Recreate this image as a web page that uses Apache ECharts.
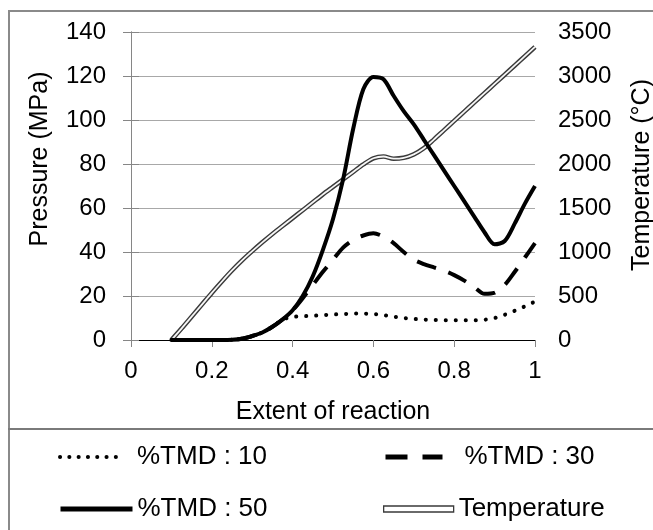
<!DOCTYPE html>
<html><head><meta charset="utf-8">
<script src="https://cdn.jsdelivr.net/npm/echarts@6/dist/echarts.min.js"></script>
<style>html,body{margin:0;padding:0;background:#fff}#c{width:653px;height:530px}</style>
</head><body><div id="c"></div>
<script>
const extent = [0.1,0.125,0.15,0.175,0.2,0.225,0.25,0.275,0.3,0.325,0.35,0.375,0.4,0.425,0.45,0.475,0.5,0.525,0.55,0.575,0.6,0.625,0.65,0.675,0.7,0.725,0.75,0.775,0.8,0.825,0.85,0.875,0.9,0.925,0.95,0.975,1.0];
const tmd10 = [0,0,0,0,0,0,0.1,0.6,1.8,3.4,6,9.2,10.5,10.8,11,11.3,11.6,11.8,12,12,11.8,11.3,10.6,10,9.6,9.3,9.1,9,9,9,9,9.2,10,11.5,13.3,15.3,17.5];
const tmd30 = [0,0,0,0,0,0,0.1,0.6,1.8,3.4,6,9.3,13.5,19,25,31,36.5,42,45.5,47.5,48.5,47,44,40,36.5,34.5,33,31.5,29.5,27,24,21,21.5,25,31,37.5,44];
const tmd50 = [0,0,0,0,0,0,0.1,0.6,1.8,3.4,6,9.3,13.5,20,29,41,55,73,96,114,119.5,118.5,111,104,98,91,84,77,70,63,56,49,43.5,45,53,62,70];
const temperature = [0,130,265,400,535,665,790,905,1010,1110,1205,1295,1385,1475,1565,1655,1740,1825,1910,1995,2065,2085,2060,2070,2110,2180,2280,2385,2490,2595,2700,2805,2910,3015,3120,3225,3330];
const xTicks = [0,0.2,0.4,0.6,0.8,1];
const pressureTicks = [0,20,40,60,80,100,120,140];
const temperatureTicks = [0,500,1000,1500,2000,2500,3000,3500];
const seriesNames = ['%TMD : 10','%TMD : 30','%TMD : 50','Temperature'];
const xTitle = 'Extent of reaction';
const pTitle = 'Pressure (MPa)';
const tTitle = 'Temperature (°C)';

const FONT = "'Liberation Sans', Arial, sans-serif";
const pairs = arr => extent.map((x, i) => [x, arr[i]]);
const step = a => a[1] - a[0];
const axisGray = '#868686';
const plain = v => String(v);

const chart = echarts.init(document.getElementById('c'));
chart.setOption({
  animation: false,
  backgroundColor: '#fff',
  textStyle: { fontFamily: FONT },
  grid: { left: 131, right: 118, top: 32, bottom: 190 },
  xAxis: [{
    type: 'value', min: xTicks[0], max: xTicks[xTicks.length-1], interval: step(xTicks),
    axisLine: { show: true, lineStyle: { color: axisGray, width: 1 } },
    axisTick: { show: true, length: 7, lineStyle: { color: axisGray } },
    axisLabel: { fontSize: 24, color: '#000', margin: 19, fontFamily: FONT, formatter: plain },
    splitLine: { show: false },
    name: xTitle, nameLocation: 'middle', nameGap: 60,
    nameTextStyle: { fontSize: 25, color: '#000', fontFamily: FONT }
  }, {
    type: 'value', position: 'top', min: xTicks[0], max: xTicks[xTicks.length-1],
    axisLine: { show: true, lineStyle: { color: '#000', width: 1.2 } },
    axisTick: { show: false }, axisLabel: { show: false }, splitLine: { show: false }
  }],
  yAxis: [{
    type: 'value', min: pressureTicks[0], max: pressureTicks[pressureTicks.length-1], interval: step(pressureTicks),
    axisLine: { show: true, lineStyle: { color: axisGray } },
    axisTick: { show: true, length: 8, lineStyle: { color: axisGray } },
    axisLabel: { fontSize: 24, color: '#000', margin: 25, fontFamily: FONT, formatter: plain },
    splitLine: { show: true, lineStyle: { color: '#a8a8a8', width: 1 } }
  }, {
    type: 'value', position: 'right', min: temperatureTicks[0], max: temperatureTicks[temperatureTicks.length-1], interval: step(temperatureTicks),
    axisLine: { show: true, lineStyle: { color: axisGray } },
    axisTick: { show: true, length: 8, lineStyle: { color: axisGray } },
    axisLabel: { fontSize: 24, color: '#000', margin: 23, fontFamily: FONT, formatter: plain },
    splitLine: { show: false }
  }],
  legend: [
    { left: 58, top: 444, padding: 0, itemWidth: 62, itemHeight: 10,
      textStyle: { fontSize: 26, color: '#000', fontFamily: FONT, padding: [0,0,0,10] },
      data: [{ name: seriesNames[0], itemStyle: { opacity: 0 }, lineStyle: { width: 4, type: [0.1, 9.2], cap: 'round' } }] },
    { left: 383, top: 444, padding: 0, itemWidth: 57, itemHeight: 10,
      textStyle: { fontSize: 26, color: '#000', fontFamily: FONT, padding: [0,0,0,17] },
      data: [{ name: seriesNames[1], itemStyle: { opacity: 0 }, lineStyle: { type: [22, 15], width: 5 } }] },
    { left: 58, top: 496, padding: 0, itemWidth: 72, itemHeight: 10,
      textStyle: { fontSize: 26, color: '#000', fontFamily: FONT, padding: [0,0,0,0] },
      data: [{ name: seriesNames[2], itemStyle: { opacity: 0 }, lineStyle: { width: 5 } }] },
    { left: 383, top: 496, padding: 0, itemWidth: 70, itemHeight: 6,
      textStyle: { fontSize: 26, color: '#000', fontFamily: FONT },
      data: [{ name: seriesNames[3], icon: 'rect', itemStyle: { color: '#fff', borderColor: '#3a3a3a', borderWidth: 1.3, opacity: 1 } }] }
  ],
  graphic: [
    { type: 'line', shape: { x1: 9, y1: 11, x2: 9, y2: 530 }, style: { stroke: '#8a8a8a', lineWidth: 2 }, silent: true },
    { type: 'line', shape: { x1: 8, y1: 11, x2: 653, y2: 11 }, style: { stroke: '#8a8a8a', lineWidth: 2 }, silent: true },
    { type: 'line', shape: { x1: 8, y1: 429, x2: 653, y2: 429 }, style: { stroke: '#7a7a7a', lineWidth: 2 }, silent: true },
    { type: 'text', x: 40, y: 159, rotation: Math.PI / 2,
      style: { text: pTitle, font: '25px ' + FONT, fill: '#000', align: 'center', verticalAlign: 'middle' }, silent: true },
    { type: 'text', x: 642, y: 175, rotation: Math.PI / 2,
      style: { text: tTitle, font: '25px ' + FONT, fill: '#000', align: 'center', verticalAlign: 'middle' }, silent: true }
  ],
  series: [
    { name: seriesNames[3], type: 'line', yAxisIndex: 1, data: pairs(temperature), smooth: 0.3, showSymbol: false, symbol: 'none',
      lineStyle: { color: '#3a3a3a', width: 4.6 }, itemStyle: { color: '#3a3a3a' }, z: 2 },
    { name: seriesNames[3], type: 'line', yAxisIndex: 1, data: pairs(temperature), smooth: 0.3, showSymbol: false, symbol: 'none',
      lineStyle: { color: '#f6f6f6', width: 1.8 }, itemStyle: { color: '#f6f6f6' }, z: 3 },
    { name: seriesNames[0], type: 'line', data: pairs(tmd10), smooth: 0.3, showSymbol: false, symbol: 'none',
      lineStyle: { color: '#000', width: 4, type: [0.1, 9.9], cap: 'round' }, itemStyle: { color: '#000' }, z: 4 },
    { name: seriesNames[1], type: 'line', data: pairs(tmd30), smooth: 0.3, showSymbol: false, symbol: 'none',
      lineStyle: { color: '#000', width: 4, type: [20, 13] }, itemStyle: { color: '#000' }, z: 5 },
    { name: seriesNames[2], type: 'line', data: pairs(tmd50), smooth: 0.3, showSymbol: false, symbol: 'none',
      lineStyle: { color: '#000', width: 4 }, itemStyle: { color: '#000' }, z: 6 }
  ]
});
</script></body></html>
